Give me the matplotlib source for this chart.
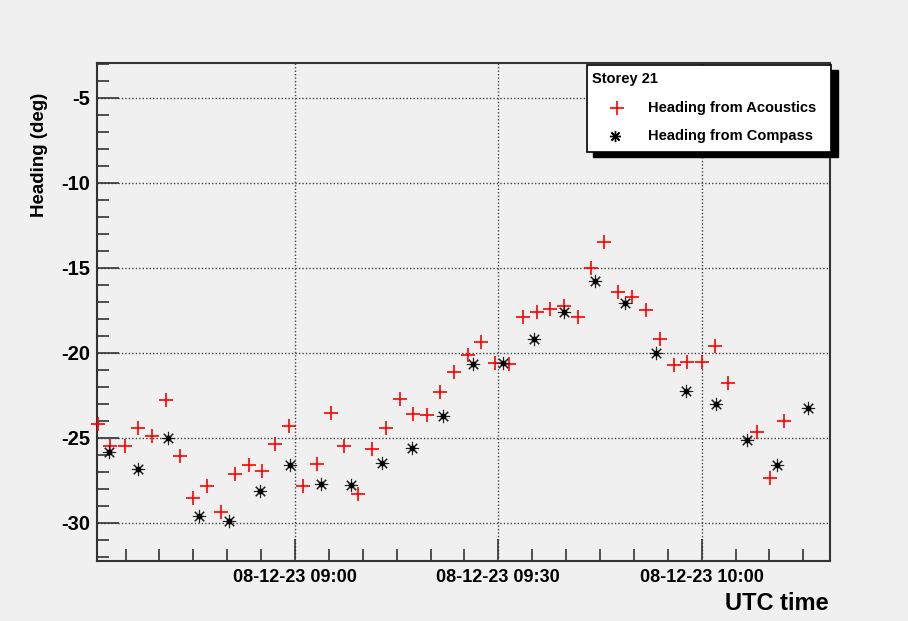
import numpy as np
import pandas as pd
import matplotlib
matplotlib.use("Agg")
from matplotlib import pyplot as plt
import matplotlib.dates as mdates
from matplotlib.patches import Rectangle
from matplotlib.lines import Line2D

# === DATI ===
day = "2008-12-23"

acoustic_times = ["08:30:56", "08:32:45", "08:34:52", "08:36:50", "08:38:54", "08:40:58",
                  "08:42:59", "08:45:00", "08:47:01", "08:49:08", "08:51:09", "08:53:10",
                  "08:55:11", "08:57:05", "08:59:04", "09:01:11", "09:03:12", "09:05:16",
                  "09:07:16", "09:09:20", "09:11:22", "09:13:26", "09:15:27", "09:17:27",
                  "09:19:31", "09:21:23", "09:23:25", "09:25:29", "09:27:29", "09:29:33",
                  "09:31:37", "09:33:38", "09:35:40", "09:37:40", "09:39:44", "09:41:43",
                  "09:43:38", "09:45:38", "09:47:42", "09:49:46", "09:51:47", "09:53:51",
                  "09:55:52", "09:57:53", "10:00:00", "10:01:58", "10:03:53", "10:08:07",
                  "10:10:07", "10:12:11"]
acoustic_heading = [-24.21, -25.49, -25.49, -24.45, -24.88, -22.78,
                    -26.08, -28.56, -27.82, -29.35, -27.14, -26.61,
                    -26.98, -25.39, -24.31, -27.84, -26.55, -23.52,
                    -25.47, -28.31, -25.68, -24.41, -22.71, -23.61,
                    -23.66, -22.31, -21.16, -20.14, -19.37, -20.59,
                    -20.68, -17.90, -17.59, -17.45, -17.24, -17.92,
                    -15.00, -13.51, -16.41, -16.74, -17.49, -19.21,
                    -20.72, -20.53, -20.56, -19.61, -21.78, -24.68,
                    -27.37, -24.02]

compass_times = ["08:32:31", "08:36:50", "08:41:15", "08:45:53", "08:50:18", "08:54:53",
                 "08:59:16", "09:03:53", "09:08:16", "09:12:53", "09:17:18", "09:21:47",
                 "09:26:18", "09:30:44", "09:35:18", "09:39:44", "09:44:16", "09:48:44",
                 "09:53:16", "09:57:41", "10:02:07", "10:06:44", "10:11:10", "10:15:41"]
compass_heading = [-25.82, -26.86, -25.00, -29.61, -29.88, -28.14,
                   -26.61, -27.71, -27.80, -26.47, -25.62, -23.72,
                   -20.66, -20.59, -19.19, -17.59, -15.78, -17.06,
                   -20.02, -22.25, -23.04, -25.14, -26.59, -23.27]

legend_title = "Storey 21"
legend_labels = ["Heading from Acoustics", "Heading from Compass"]

# === STILE ===
plt.rcParams['font.family'] = ['Liberation Sans', 'DejaVu Sans']
plt.rcParams['font.weight'] = 'bold'
plt.rcParams['axes.unicode_minus'] = False

bg = '#f0f0f0'
t_acu = pd.to_datetime([f"{day} {t}" for t in acoustic_times])
t_cmp = pd.to_datetime([f"{day} {t}" for t in compass_times])

fig = plt.figure(figsize=(9.08, 6.21), dpi=100, facecolor=bg)
ax = fig.add_axes([0.1068, 0.0966, 0.8073, 0.802], facecolor=bg)

ax.plot(t_acu, acoustic_heading, linestyle='none', marker='+', color='#ff0000',
        markersize=10, markeredgewidth=1.2, clip_on=False, zorder=3)
ax.plot(t_cmp, compass_heading, linestyle='none', marker=(8, 2, 0), color='#222222',
        markersize=9.5, markeredgewidth=0.8, zorder=3)
ax.plot(t_cmp, compass_heading, linestyle='none', marker='o', color='black',
        markersize=3.2, zorder=4)

ax.set_xlim(pd.Timestamp(f"{day} 08:30:47"), pd.Timestamp(f"{day} 10:18:56"))
ax.set_ylim(-32.25, -2.96)

ax.xaxis.set_major_locator(mdates.MinuteLocator(byminute=[0, 30]))
ax.xaxis.set_minor_locator(mdates.MinuteLocator(byminute=range(0, 60, 5)))
ax.xaxis.set_major_formatter(mdates.DateFormatter('%y-%m-%d %H:%M'))
ax.set_yticks([-5, -10, -15, -20, -25, -30])
ax.set_yticks(np.arange(-32, -2), minor=True)

ax.tick_params(which='both', direction='in', top=False, right=False, width=1.2, color='#333333')
ax.tick_params(which='major', length=16, labelsize=13, pad=6)
ax.tick_params(which='minor', length=8.5)
ax.tick_params(axis='y', which='major', pad=5, labelsize=14.5)
for lab in ax.get_xticklabels() + ax.get_yticklabels():
    lab.set_fontweight('bold')

ax.grid(True, which='major', linestyle=(0, (1, 1.5)), color='#444444', linewidth=1.0)
for s in ax.spines.values():
    s.set_linewidth(1.5)
    s.set_color('#333333')

fig.text(39 / 908, 1 - 155 / 621, "Heading (deg)", rotation=90, ha='center', va='center',
         fontsize=13.5, fontweight='bold')
fig.text(829 / 908, 1 - 604 / 621, "UTC time", ha='right', va='center',
         fontsize=17, fontweight='bold')

# === LEGENDA (stile ROOT con ombra nera) ===
W, H = 908, 621
fig.patches.append(Rectangle((593 / W, 1 - 157 / H), 245 / W, 87 / H, transform=fig.transFigure,
                             facecolor='black', edgecolor='black', zorder=5))
fig.patches.append(Rectangle((587 / W, 1 - 152 / H), 244 / W, 87 / H, transform=fig.transFigure,
                             facecolor='white', edgecolor='black', linewidth=1.2, zorder=6))
fig.text(592 / W, 1 - 79 / H, legend_title, ha='left', va='center', fontsize=10.5,
         fontweight='bold', zorder=7)
fig.text(648 / W, 1 - 108 / H, legend_labels[0], ha='left', va='center', fontsize=10.5,
         fontweight='bold', zorder=7)
fig.text(648 / W, 1 - 136 / H, legend_labels[1], ha='left', va='center', fontsize=10.5,
         fontweight='bold', zorder=7)
fig.lines.append(Line2D([616.5 / W], [1 - 108 / H], transform=fig.transFigure, marker='+',
                        color='#ff0000', markersize=10, markeredgewidth=1.2, zorder=7))
fig.lines.append(Line2D([615 / W], [1 - 136 / H], transform=fig.transFigure, marker=(8, 2, 0),
                        color='black', markersize=8, markeredgewidth=1.0, zorder=7))

fig.savefig('out.png', dpi=100, facecolor=bg)
